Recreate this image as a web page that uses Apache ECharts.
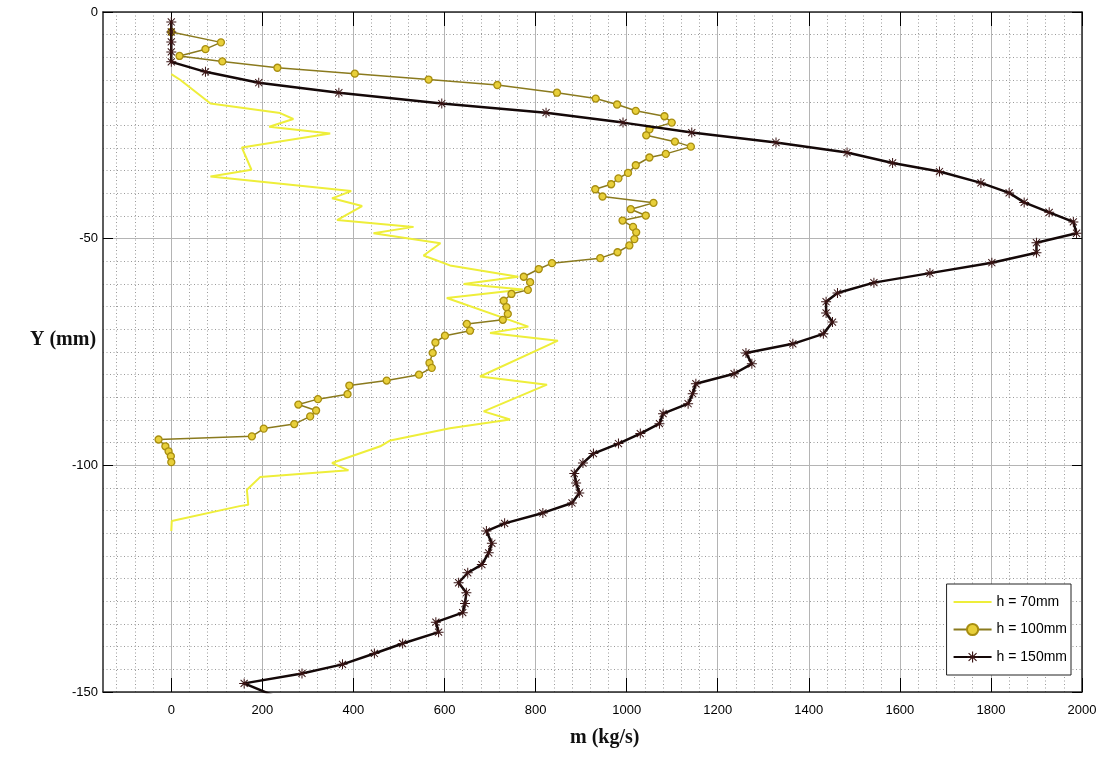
<!DOCTYPE html>
<html>
<head>
<meta charset="utf-8">
<script src="https://cdn.jsdelivr.net/npm/echarts@6.0.0/dist/echarts.min.js"></script>
<style>
html,body{margin:0;padding:0;background:#fff;}
#chart{width:1102px;height:762px;}
</style>
</head>
<body>
<div id="chart"></div>
<script>
// ---- data (m in kg/s, Y in mm) ----
const xMajorTicks = [0,200,400,600,800,1000,1200,1400,1600,1800,2000];
const xMinorTicks = [-120,-80,-40,40,80,120,160,240,280,320,360,440,480,520,560,640,680,720,760,840,880,920,960,1040,1080,1120,1160,1240,1280,1320,1360,1440,1480,1520,1560,1640,1680,1720,1760,1840,1880,1920,1960];

const h70_m = [0,20,86,239,268,215,349,155,176,86,395,353,419,364,532,444,591,554,612,762,642,772,605,784,700,849,678,825,686,744,612,481,459,353,389,195,166,169,150,1,0];
const h70_y = [-13.7,-15,-20.2,-22.3,-23.6,-25.3,-26.8,-29.9,-34.8,-36.3,-39.5,-41.1,-42.8,-45.9,-47.4,-48.8,-51.0,-53.7,-55.9,-58.4,-60.0,-61.2,-63.1,-69.4,-70.8,-72.5,-80.4,-82.2,-88.1,-89.9,-91.8,-94.5,-95.8,-99.5,-101.1,-102.6,-105.4,-108.7,-109.0,-112.3,-114.5];

const h100_m = [0,109,75,18,112,233,403,565,716,847,932,979,1020,1083,1099,1050,1043,1106,1141,1086,1050,1020,1003,982,966,931,947,1059,1009,1042,991,1014,1021,1017,1006,980,942,836,807,774,788,783,747,730,736,739,728,649,656,601,580,574,567,572,544,473,391,387,322,279,318,305,270,203,177,-28,-13,-6,-1,0];
const h100_y = [-4.4,-6.7,-8.2,-9.7,-10.9,-12.3,-13.6,-14.9,-16.1,-17.8,-19.1,-20.4,-21.8,-23.0,-24.4,-25.9,-27.2,-28.6,-29.7,-31.3,-32.1,-33.8,-35.5,-36.7,-38.0,-39.1,-40.7,-42.1,-43.5,-44.9,-46.0,-47.4,-48.6,-50.1,-51.5,-53.0,-54.3,-55.4,-56.7,-58.4,-59.6,-61.3,-62.2,-63.7,-65.1,-66.6,-67.9,-68.8,-70.3,-71.4,-72.9,-75.2,-77.4,-78.5,-80.0,-81.3,-82.4,-84.3,-85.4,-86.6,-87.9,-89.2,-90.9,-91.9,-93.6,-94.3,-95.8,-96.9,-98.0,-99.3];

const h150_m = [0,0,0,0,0,75,192,368,594,823,992,1143,1328,1484,1584,1687,1778,1840,1873,1928,1981,1988,1900,1900,1802,1666,1543,1463,1438,1438,1452,1432,1365,1262,1275,1236,1152,1145,1135,1080,1072,1030,982,927,904,885,889,896,880,816,732,692,704,697,682,651,631,648,645,640,581,587,508,446,376,287,160,254];
const h150_y = [-2.2,-4.4,-6.6,-8.8,-11.0,-13.2,-15.6,-17.8,-20.2,-22.2,-24.4,-26.6,-28.8,-31.0,-33.3,-35.2,-37.7,-39.9,-42.0,-44.2,-46.3,-48.8,-50.9,-53.1,-55.3,-57.6,-59.7,-62.0,-63.9,-66.4,-68.4,-71.0,-73.2,-75.2,-77.6,-79.8,-82.0,-84.2,-86.4,-88.6,-90.8,-93.0,-95.2,-97.4,-99.5,-101.8,-103.9,-106.1,-108.3,-110.5,-112.8,-114.5,-117.2,-119.3,-121.9,-123.7,-125.9,-128.1,-130.5,-132.5,-134.6,-136.8,-139.3,-141.5,-143.9,-145.9,-148.1,-152.0];

const seriesNames = ['h = 70mm','h = 100mm','h = 150mm'];
const xTitle = 'm (kg/s)';
const yTitle = 'Y (mm)';

function pairs(m, y){ return m.map((v,i)=>[v, y[i]]); }

const STAR = 'path://M9 0L11 0L11 20L9 20Z M0 9L20 9L20 11L0 11Z M2.2 3.6L3.6 2.2L17.8 16.4L16.4 17.8Z M16.4 2.2L17.8 3.6L3.6 17.8L2.2 16.4Z';

const FONT = '"Liberation Sans",Arial,sans-serif';
const SERIF = '"Liberation Serif","Times New Roman",serif';

const chart = echarts.init(document.getElementById('chart'), null, {renderer:'canvas'});

const frame = {show:true, onZero:false, lineStyle:{color:'#262626', width:1.5}};
const fmt = v => String(v);

const option = {
  animation:false,
  backgroundColor:'#fff',
  grid:{left:103, right:20, top:12, bottom:70, containLabel:false},
  graphic:[
    {type:'text', left:30, top:330, silent:true,
     style:{text:yTitle, fontFamily:SERIF, fontWeight:'bold', fontSize:20, fill:'#111'}},
    {type:'text', left:570, top:728, silent:true,
     style:{text:xTitle, fontFamily:SERIF, fontWeight:'bold', fontSize:20, fill:'#111'}}
  ],
  legend:{
    data:[
      {name:seriesNames[0], itemStyle:{opacity:0}},
      {name:seriesNames[1]},
      {name:seriesNames[2]}
    ],
    orient:'vertical',
    right:31, top:584,
    backgroundColor:'#fff',
    borderColor:'#222', borderWidth:1,
    itemWidth:38, itemHeight:14, itemGap:13.5,
    padding:[11,4,11,6],
    selectedMode:false,
    textStyle:{fontFamily:FONT, fontSize:14, color:'#000'}
  },
  xAxis:[
    {type:'value', min:-150, max:2000, position:'bottom',
     axisLine:frame,
     axisTick:{show:true, inside:true, length:14, customValues:xMajorTicks, lineStyle:{color:'#000', width:1}},
     axisLabel:{show:true, customValues:xMajorTicks, formatter:fmt, margin:12, fontFamily:FONT, fontSize:13, color:'#000'},
     splitLine:{show:true, lineStyle:{color:'#b4b4b4', width:1}}
    },
    {type:'value', min:-150, max:2000, position:'top',
     axisLine:frame,
     axisTick:{show:true, inside:true, length:14, customValues:xMajorTicks, lineStyle:{color:'#000', width:1}},
     axisLabel:{show:false, customValues:xMajorTicks},
     splitLine:{show:false}
    },
    {type:'value', min:-150, max:2000, position:'bottom',
     axisLine:{show:false},
     axisTick:{show:false, customValues:xMinorTicks},
     axisLabel:{show:false, customValues:xMinorTicks},
     splitLine:{show:true, lineStyle:{color:'#9a9a9a', width:1, type:[1,2.5]}}
    }
  ],
  yAxis:[
    {type:'value', min:-150, max:0, interval:50, position:'left',
     axisLine:frame,
     axisTick:{show:true, inside:true, length:10, lineStyle:{color:'#000', width:1}},
     axisLabel:{show:true, formatter:fmt, margin:5, fontFamily:FONT, fontSize:13, color:'#000'},
     splitLine:{show:true, lineStyle:{color:'#b4b4b4', width:1}},
     minorTick:{show:false, splitNumber:10},
     minorSplitLine:{show:true, lineStyle:{color:'#9a9a9a', width:1, type:[1,2.5]}}
    },
    {type:'value', min:-150, max:0, interval:50, position:'right',
     axisLine:frame,
     axisTick:{show:true, inside:true, length:10, lineStyle:{color:'#000', width:1}},
     axisLabel:{show:false},
     splitLine:{show:false}
    }
  ],
  series:[
    {name:seriesNames[0], type:'line', xAxisIndex:0, yAxisIndex:0,
     data:pairs(h70_m, h70_y), symbol:'none', clip:true,
     lineStyle:{color:'#eeee3a', width:2}, itemStyle:{color:'#eeee3a'}, z:3},
    {name:seriesNames[1], type:'line', xAxisIndex:0, yAxisIndex:0,
     data:pairs(h100_m, h100_y), symbol:'circle', symbolSize:7, showSymbol:true, showAllSymbol:true, clip:true,
     lineStyle:{color:'#8a7a1e', width:1.5},
     itemStyle:{color:'#e8cf3a', borderColor:'#a88e10', borderWidth:1.3}, z:4},
    {name:seriesNames[2], type:'line', xAxisIndex:0, yAxisIndex:0,
     data:pairs(h150_m, h150_y), symbol:STAR, symbolSize:10, showSymbol:true, showAllSymbol:true, clip:true,
     lineStyle:{color:'#140808', width:2.5},
     itemStyle:{color:'#3a1414'}, z:5}
  ]
};
chart.setOption(option);
</script>
</body>
</html>
